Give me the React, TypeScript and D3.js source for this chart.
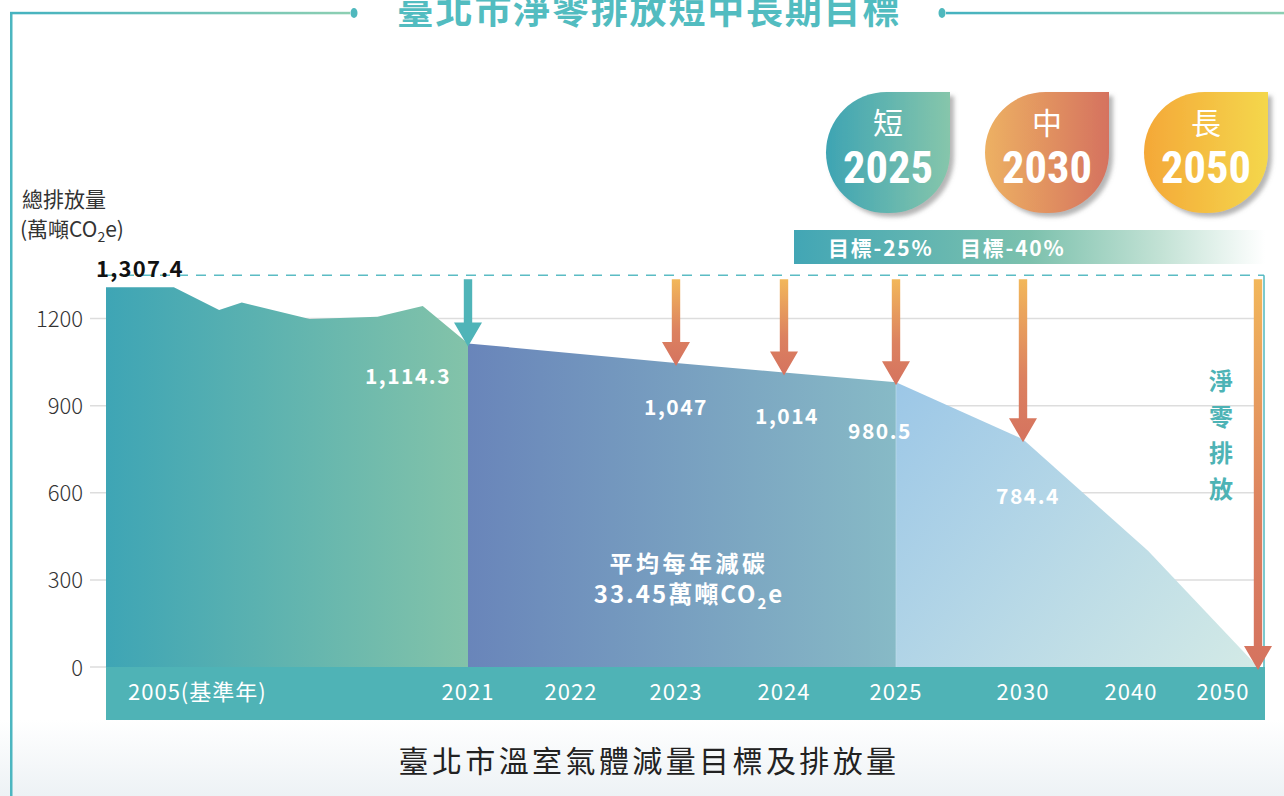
import React from 'react';
import * as d3 from 'd3';

// ---------- data ----------
const histYears = [2005, 2008, 2010, 2011, 2014, 2017, 2019, 2021];
const histValues = [1307.4, 1307.4, 1229, 1255, 1198, 1206, 1243, 1114.3];
const targetYears = [2021, 2023, 2024, 2025];
const targetValues = [1114.3, 1047, 1014, 980.5];
const longYears = [2025, 2030, 2040, 2050];
const longValues = [980.5, 784.4, 400, 0];
const axisYears = [2005, 2021, 2022, 2023, 2024, 2025, 2030, 2040, 2050];
const axisLabels = ['2005(基準年)', '2021', '2022', '2023', '2024', '2025', '2030', '2040', '2050'];
const yTicks = [0, 300, 600, 900, 1200];
const arrowYears = [2021, 2023, 2024, 2025, 2030, 2050];
const labelYears = [2021, 2023, 2024, 2025, 2030];
const labelTexts = ['1,114.3', '1,047', '1,014', '980.5', '784.4'];
const baseValue = 1307.4;
const baseLabel = '1,307.4';
const badgeTerms = ['短', '中', '長'];
const badgeYears = ['2025', '2030', '2050'];
const goalTexts = ['目標-25%', '目標-40%'];
const netZeroText = ['淨', '零', '排', '放'];
const avgLine1 = '平均每年減碳';
const avgValue = '33.45';
const title = '臺北市淨零排放短中長期目標';
const caption = '臺北市溫室氣體減量目標及排放量';
const yTitle1 = '總排放量';

// ---------- layout ----------
const W = 1284;
const H = 796;
const FONT = "'Noto Sans CJK TC', 'Noto Sans', sans-serif";
const xStops = [106, 468, 571, 676, 784, 896, 1023, 1148, 1258];
const labelOffsets: Record<number, [number, number]> = {
  2021: [-60, 41],
  2023: [0, 52],
  2024: [3, 51],
  2025: [-16, 57],
  2030: [5, 65],
};
const axisLabelDx: Record<number, number> = { 2040: -17, 2050: -35 };

const x = d3.scaleLinear().domain(axisYears).range(xStops);
const y = d3.scaleLinear().domain([0, 1200]).range([667, 318.5]);

const valueOf = (yr: number): number => {
  const all = [
    ...histYears.map((d, i) => [d, histValues[i]]),
    ...targetYears.map((d, i) => [d, targetValues[i]]),
    ...longYears.map((d, i) => [d, longValues[i]]),
  ];
  const f = all.find((p) => p[0] === yr);
  return f ? f[1] : 0;
};

const area = d3
  .area<[number, number]>()
  .x((d) => x(d[0]))
  .y0(y(0))
  .y1((d) => y(d[1]));

const zip = (a: number[], b: number[]) => a.map((d, i) => [d, b[i]] as [number, number]);

const arrowPath = (cx: number, top: number, tip: number) => {
  const sw = 4.2;
  const hw = 14;
  const hh = 24;
  return `M${cx - sw},${top} L${cx + sw},${top} L${cx + sw},${tip - hh} L${cx + hw},${tip - hh} L${cx},${tip} L${cx - hw},${tip - hh} L${cx - sw},${tip - hh} Z`;
};

const badgePath = (bx: number, by: number, w: number, h: number) => {
  const r = Math.min(w, h) / 2;
  return `M${bx + r},${by} L${bx + w},${by} L${bx + w},${by + h - r} A${r},${r} 0 0 1 ${bx + w - r},${by + h} L${bx + r},${by + h} A${r},${r} 0 0 1 ${bx},${by + h - r} L${bx},${by + r} A${r},${r} 0 0 1 ${bx + r},${by} Z`;
};

const badgeX = [826, 985, 1144];
const badgeColors = [
  ['#3ea4b3', '#86c6ab'],
  ['#edb163', '#d5725f'],
  ['#f4a838', '#f4d74c'],
];

export default function App() {
  const baseY = y(baseValue);
  const dashY = baseY - 12;
  const arrowTop = dashY + 4;
  const bandBottom = 720;
  const midX = (x(2021) + x(2025)) / 2 + 7;

  return (
    <svg
      width={W}
      height={H}
      viewBox={`0 0 ${W} ${H}`}
      style={{ position: 'absolute', left: 0, top: 0, background: '#fff' }}
      fontFamily={FONT}
    >
      <defs>
        <linearGradient id="seg1" gradientUnits="userSpaceOnUse" x1={x(2005)} x2={x(2021)} y1={0} y2={0}>
          <stop offset="0" stopColor="#3ea5b5" />
          <stop offset="1" stopColor="#83c3a9" />
        </linearGradient>
        <linearGradient id="seg2" gradientUnits="userSpaceOnUse" x1={x(2021)} x2={x(2025)} y1={0} y2={0}>
          <stop offset="0" stopColor="#6985ba" />
          <stop offset="1" stopColor="#87bac6" />
        </linearGradient>
        <linearGradient id="seg3" gradientUnits="userSpaceOnUse" x1={x(2025)} y1={y(980.5)} x2={x(2050)} y2={y(0)}>
          <stop offset="0" stopColor="#9cc7e7" />
          <stop offset="1" stopColor="#d3eae6" />
        </linearGradient>
        <linearGradient id="orangeArrow" x1="0" y1="0" x2="0" y2="1">
          <stop offset="0" stopColor="#f2b75a" />
          <stop offset="0.6" stopColor="#dc8160" />
          <stop offset="1" stopColor="#d5735f" />
        </linearGradient>
        <linearGradient id="goalBar" x1="0" y1="0" x2="1" y2="0">
          <stop offset="0" stopColor="#42a6b5" />
          <stop offset="0.5" stopColor="#7cc1ad" />
          <stop offset="0.78" stopColor="#c3e2d5" />
          <stop offset="1" stopColor="#ffffff" />
        </linearGradient>
        <linearGradient id="topLine" x1="0" y1="0" x2="1" y2="0">
          <stop offset="0" stopColor="#44b2c0" />
          <stop offset="1" stopColor="#8dcfb2" />
        </linearGradient>
        <linearGradient id="bottomBg" x1="0" y1="0" x2="0" y2="1">
          <stop offset="0" stopColor="#ffffff" />
          <stop offset="1" stopColor="#edf2f5" />
        </linearGradient>
        {badgeColors.map((c, i) => (
          <linearGradient key={i} id={`badge${i}`} x1="0" y1="0" x2="1" y2="0">
            <stop offset="0" stopColor={c[0]} />
            <stop offset="1" stopColor={c[1]} />
          </linearGradient>
        ))}
        <filter id="shadow" x="-20%" y="-20%" width="150%" height="150%">
          <feDropShadow dx="4" dy="4" stdDeviation="2" floodColor="#7a7a7a" floodOpacity="0.55" />
        </filter>
      </defs>

      {/* bottom background */}
      <rect x={0} y={bandBottom} width={W} height={H - bandBottom} fill="url(#bottomBg)" />

      {/* frame lines */}
      <rect x={10} y={12} width={2.5} height={H - 12} fill="#4cb6c0" />
      <rect x={10} y={11.8} width={340} height={2.5} fill="url(#topLine)" />
      <ellipse cx={354} cy={13} rx={3.5} ry={5} fill="#4fb8bd" />
      <ellipse cx={942} cy={13} rx={3.5} ry={5} fill="#4fb8bd" />
      <rect x={946} y={11.8} width={W - 946} height={2.5} fill="url(#topLine)" />
      <text x={649} y={24} textAnchor="middle" fontSize={37} fontWeight={700} fill="#52bcc0" letterSpacing={1.8}>
        {title}
      </text>

      {/* y-axis title */}
      <text x={22} y={207} fontSize={21} fill="#333">{yTitle1}</text>
      <text x={20} y={237} fontSize={21} fill="#333">
        (萬噸CO<tspan fontSize={14} dy={5}>2</tspan>
        <tspan dy={-5}>e)</tspan>
      </text>

      {/* gridlines and y ticks */}
      {yTicks.map((t) => (
        <g key={t}>
          <line x1={90} x2={x(2050)} y1={y(t)} y2={y(t)} stroke="#dddddd" strokeWidth={1.5} />
          <text x={83} y={y(t) + 8.5} textAnchor="end" fontSize={22} fontWeight={300} fill="#333">
            {t}
          </text>
        </g>
      ))}

      {/* areas */}
      <path d={area(zip(histYears, histValues)) || ''} fill="url(#seg1)" />
      <path d={area(zip(targetYears, targetValues)) || ''} fill="url(#seg2)" />
      <path d={area(zip(longYears, longValues)) || ''} fill="url(#seg3)" />
      <line x1={x(2025)} x2={x(2025)} y1={y(980.5)} y2={y(0)} stroke="#c4e0ec" strokeWidth={1} opacity={0.6} />

      {/* baseline dashed */}
      <line x1={x(2005)} x2={1264} y1={dashY} y2={dashY} stroke="#5bbcc4" strokeWidth={1.5} strokeDasharray="10 8" />
      <line x1={1264} x2={1264} y1={dashY} y2={y(0)} stroke="#4fb8bf" strokeWidth={1.5} />
      <text x={x(2005) - 10} y={baseY - 10} fontSize={22} fontWeight={700} fill="#111" letterSpacing={1.2}>
        {baseLabel}
      </text>

      {/* x-axis band */}
      <rect x={x(2005)} y={y(0)} width={1265 - x(2005)} height={bandBottom - y(0)} fill="#4fb3b6" />
      {axisYears.map((yr, i) => (
        <text
          key={yr}
          x={i === 0 ? x(yr) + 22 : x(yr) + (axisLabelDx[yr] || 0)}
          y={700}
          textAnchor={i === 0 ? 'start' : 'middle'}
          fontSize={22}
          fill="#fff"
          letterSpacing={1}
        >
          {axisLabels[i]}
        </text>
      ))}

      {/* arrows */}
      {arrowYears.map((yr, i) => (
        <path
          key={yr}
          d={arrowPath(x(yr), arrowTop, y(valueOf(yr)) + 3)}
          fill={i === 0 ? '#4fb4b8' : 'url(#orangeArrow)'}
        />
      ))}

      {/* value labels */}
      {labelYears.map((yr, i) => (
        <text
          key={yr}
          x={x(yr) + labelOffsets[yr][0]}
          y={y(valueOf(yr)) + labelOffsets[yr][1]}
          textAnchor="middle"
          fontSize={21}
          fontWeight={700}
          fill="#fff"
          letterSpacing={1.5}
        >
          {labelTexts[i]}
        </text>
      ))}

      {/* average reduction annotation */}
      <text x={midX} y={572} textAnchor="middle" fontSize={23} fontWeight={700} fill="#fff" letterSpacing={3.5}>
        {avgLine1}
      </text>
      <text x={midX} y={603} textAnchor="middle" fontSize={24} fontWeight={700} fill="#fff" letterSpacing={2}>
        {avgValue}萬噸CO<tspan fontSize={15} dy={6}>2</tspan>
        <tspan dy={-6}>e</tspan>
      </text>

      {/* net zero vertical text */}
      {netZeroText.map((c, i) => (
        <text key={c} x={1221} y={390 + i * 36} textAnchor="middle" fontSize={24} fontWeight={700} fill="#4db3b5">
          {c}
        </text>
      ))}

      {/* badges */}
      {badgeTerms.map((t, i) => {
        const bx = badgeX[i];
        const cx = bx + 62;
        return (
          <g key={t}>
            <path d={badgePath(bx, 92, 124, 121)} fill={`url(#badge${i})`} filter="url(#shadow)" />
            <text x={cx} y={134} textAnchor="middle" fontSize={30} fill="#fff">
              {t}
            </text>
            <text
              x={cx}
              y={183}
              textAnchor="middle"
              fontSize={44}
              fontWeight={700}
              fill="#fff"
              fontFamily="'Liberation Sans Narrow', 'Roboto Condensed', 'Liberation Sans', sans-serif"
              textLength={90}
              lengthAdjust="spacingAndGlyphs"
            >
              {badgeYears[i]}
            </text>
          </g>
        );
      })}

      {/* goal bar */}
      <rect x={794} y={230} width={471} height={34} fill="url(#goalBar)" />
      {goalTexts.map((g, i) => (
        <text key={g} x={828 + i * 132} y={256} fontSize={21} fontWeight={700} fill="#fff" letterSpacing={1.8}>
          {g}
        </text>
      ))}

      {/* caption */}
      <text x={649} y={772} textAnchor="middle" fontSize={30} fill="#222" letterSpacing={3.4}>
        {caption}
      </text>
    </svg>
  );
}
